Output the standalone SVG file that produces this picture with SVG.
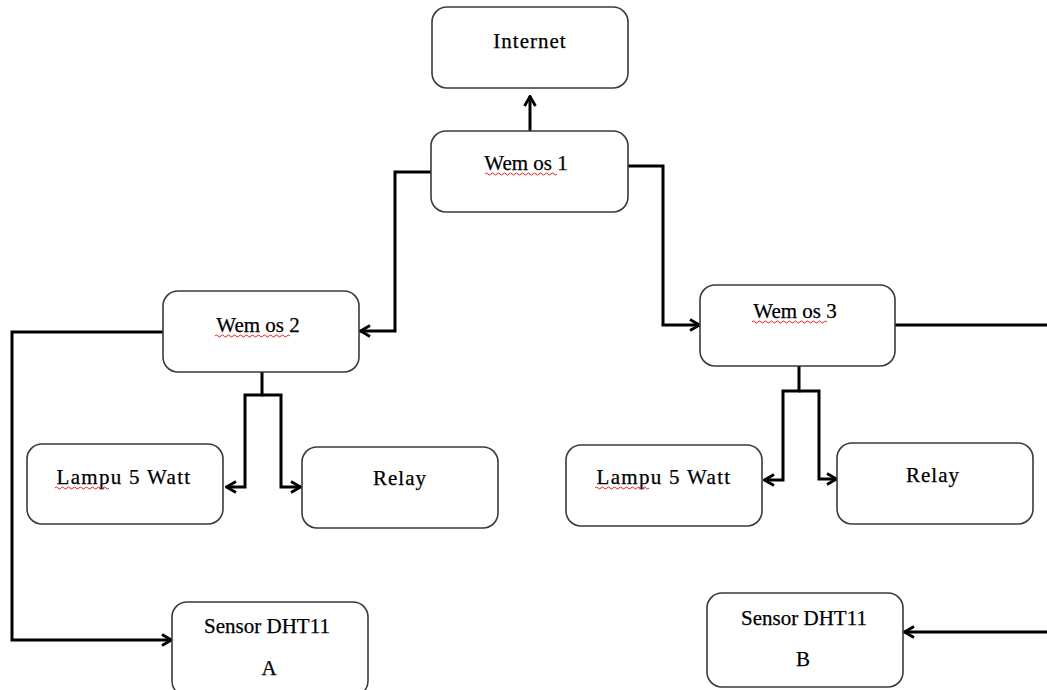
<svg xmlns="http://www.w3.org/2000/svg" width="1047" height="690" viewBox="0 0 1047 690">
<style>
.box{fill:#fff;stroke:#3a3a3a;stroke-width:1.6}
.t{font-family:"Liberation Serif","Times New Roman",serif;font-size:21px;fill:#000;stroke:#000;stroke-width:0.25;text-anchor:middle}
.c{fill:none;stroke:#000;stroke-width:3;stroke-linejoin:miter}
.sq{fill:none;stroke:#e02020;stroke-width:1}
</style>
<defs>
<marker id="ah" viewBox="0 0 14 14" refX="13" refY="7" markerWidth="14" markerHeight="14" markerUnits="userSpaceOnUse" orient="auto">
<path d="M3,1.5 L12.5,7 L3,12.5" fill="none" stroke="#000" stroke-width="2.8"/>
</marker>
</defs>
<rect width="1047" height="690" fill="#fff"/>
<g id="connectors">
<path class="c" d="M530,131 V96" marker-end="url(#ah)"/>
<path class="c" d="M431,172 H395 V331 H360" marker-end="url(#ah)"/>
<path class="c" d="M628,166 H663 V325 H700" marker-end="url(#ah)"/>
<path class="c" d="M262,372 V395 H245 V487 H226" marker-end="url(#ah)"/>
<path class="c" d="M262,395 H281 V487 H301" marker-end="url(#ah)"/>
<path class="c" d="M799,366 V391 H783 V480 H764" marker-end="url(#ah)"/>
<path class="c" d="M799,391 H819 V479 H837" marker-end="url(#ah)"/>
<path class="c" d="M163,332 H12 V640 H172" marker-end="url(#ah)"/>
<path class="c" d="M895,325 H1047"/>
<path class="c" d="M1047,632 H904" marker-end="url(#ah)"/>
</g>
<g id="internet"><rect class="box" x="432" y="7" width="196" height="81" rx="15"/><text class="t" x="530" y="48" letter-spacing="1">Internet</text></g>
<g id="wemos1"><rect class="box" x="431" y="131" width="197" height="81" rx="15"/><text class="t" x="526" y="170">Wem os 1</text><path class="sq" d="M485,174 q1.5,-2 3,0 t3,0 t3,0 t3,0 t3,0 t3,0 t3,0 t3,0 t3,0 t3,0 t3,0 t3,0 t3,0 t3,0 t3,0 t3,0 t3,0 t3,0 t3,0 t3,0 t3,0 t3,0 t3,0 t3,0"/></g>
<g id="wemos2"><rect class="box" x="163" y="291" width="196" height="81" rx="15"/><text class="t" x="258" y="332">Wem os 2</text><path class="sq" d="M215,336 q1.5,-2 3,0 t3,0 t3,0 t3,0 t3,0 t3,0 t3,0 t3,0 t3,0 t3,0 t3,0 t3,0 t3,0 t3,0 t3,0 t3,0 t3,0 t3,0 t3,0 t3,0 t3,0 t3,0 t3,0 t3,0 t3,0"/></g>
<g id="wemos3"><rect class="box" x="700" y="285" width="195" height="81" rx="15"/><text class="t" x="795" y="318">Wem os 3</text><path class="sq" d="M752,322 q1.5,-2 3,0 t3,0 t3,0 t3,0 t3,0 t3,0 t3,0 t3,0 t3,0 t3,0 t3,0 t3,0 t3,0 t3,0 t3,0 t3,0 t3,0 t3,0 t3,0 t3,0 t3,0 t3,0 t3,0 t3,0 t3,0"/></g>
<g id="lampu-left"><rect class="box" x="27" y="444" width="196" height="80" rx="15"/><text class="t" x="124" y="484" letter-spacing="1.3">Lampu 5 Watt</text><path class="sq" d="M55,488 q1.5,-2 3,0 t3,0 t3,0 t3,0 t3,0 t3,0 t3,0 t3,0 t3,0 t3,0 t3,0 t3,0 t3,0 t3,0 t3,0 t3,0 t3,0 t3,0"/></g>
<g id="relay-left"><rect class="box" x="302" y="447" width="196" height="81" rx="15"/><text class="t" x="400" y="485" letter-spacing="1">Relay</text></g>
<g id="lampu-right"><rect class="box" x="566" y="445" width="196" height="81" rx="15"/><text class="t" x="664" y="484" letter-spacing="1.3">Lampu 5 Watt</text><path class="sq" d="M595,488 q1.5,-2 3,0 t3,0 t3,0 t3,0 t3,0 t3,0 t3,0 t3,0 t3,0 t3,0 t3,0 t3,0 t3,0 t3,0 t3,0 t3,0 t3,0 t3,0"/></g>
<g id="relay-right"><rect class="box" x="837" y="443" width="196" height="81" rx="15"/><text class="t" x="933" y="482" letter-spacing="1">Relay</text></g>
<g id="sensor-a"><rect class="box" x="172" y="602" width="196" height="94" rx="15"/><text class="t" x="267" y="633">Sensor DHT11</text><text class="t" x="269" y="675">A</text></g>
<g id="sensor-b"><rect class="box" x="707" y="593" width="196" height="94" rx="15"/><text class="t" x="804" y="625">Sensor DHT11</text><text class="t" x="803" y="666">B</text></g>
</svg>
